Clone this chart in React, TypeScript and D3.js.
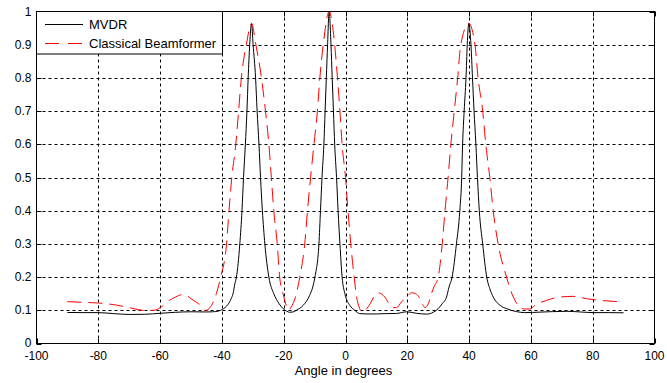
import React from "react";
import * as d3 from "d3";

const mvdrAngles = [-90, -85, -80, -75, -70, -65, -60, -55, -50, -45, -43, -41, -40, -39, -38, -37, -36.4, -35.8, -35.3, -34.2, -33.5, -33.0, -32.4, -31.9, -31.5, -31.0, -30.4, -29.9, -29.1, -28.6, -28.0, -27.5, -26.9, -26.1, -24.8, -23.2, -21.5, -20.2, -19, -18, -17, -15.9, -13.7, -11.6, -10.6, -9.9, -8.6, -8.1, -7.6, -7.0, -6.6, -6.2, -5.8, -5.3, -4.7, -4.3, -3.9, -3.5, -2.9, -2.4, -1.8, -1.1, -0.2, 1.4, 3.0, 4.6, 7, 10, 13, 16.5, 19.8, 23, 26.2, 28.4, 30.0, 31.3, 32.7, 33.5, 34.5, 35.9, 37.0, 37.6, 37.9, 38.4, 39.0, 39.4, 39.9, 40.6, 41.1, 41.6, 42.2, 42.7, 43.3, 44.4, 45.7, 46.7, 47.8, 50, 52.1, 55.4, 58, 62.9, 67, 71.6, 76, 80.2, 85, 90];
const mvdrValues = [0.0935, 0.093, 0.093, 0.09, 0.0875, 0.088, 0.091, 0.094, 0.0955, 0.095, 0.0955, 0.098, 0.102, 0.108, 0.118, 0.135, 0.15, 0.18, 0.2, 0.3, 0.4, 0.5, 0.6, 0.7, 0.8, 0.9, 0.964, 0.9, 0.8, 0.7, 0.6, 0.5, 0.4, 0.3, 0.2, 0.15, 0.12, 0.105, 0.097, 0.094, 0.095, 0.1, 0.115, 0.145, 0.17, 0.2, 0.3, 0.4, 0.5, 0.6, 0.7, 0.8, 0.9, 1.0, 0.9, 0.8, 0.7, 0.6, 0.5, 0.4, 0.3, 0.2, 0.15, 0.115, 0.1, 0.09, 0.089, 0.089, 0.09, 0.0905, 0.0955, 0.091, 0.0885, 0.094, 0.105, 0.12, 0.14, 0.17, 0.2, 0.3, 0.4, 0.5, 0.6, 0.7, 0.8, 0.9, 0.964, 0.9, 0.8, 0.7, 0.6, 0.5, 0.4, 0.3, 0.2, 0.165, 0.14, 0.115, 0.105, 0.096, 0.093, 0.0945, 0.096, 0.097, 0.095, 0.093, 0.093, 0.0925];

const cbfAngles = [-90, -85, -80, -75, -70, -67, -65, -62, -60, -57, -55, -53, -51, -50, -47, -45.5, -44.5, -43.9, -42.8, -41.8, -40.4, -38.5, -37.7, -36.8, -35.5, -34.6, -33.7, -32.1, -30.4, -29.0, -27.2, -25.9, -24.8, -24.0, -23.2, -22.1, -21.3, -20.2, -19.2, -18.5, -17.6, -17.0, -16.2, -14.8, -13.2, -12.3, -11.3, -10.2, -9.1, -8.3, -7.2, -5.3, -3.5, -2.6, -1.8, -1.1, 0.0, 0.8, 1.7, 2.8, 3.6, 4.4, 5.2, 6.3, 8.0, 9.5, 10.9, 12.7, 14.3, 15.4, 16.5, 18.1, 19.8, 21.4, 23.0, 24.1, 25.1, 25.8, 26.8, 27.8, 28.6, 30.0, 31.3, 32.2, 33.2, 34.1, 35.2, 36.3, 37.3, 39.9, 41.9, 42.9, 44.4, 45.4, 46.7, 47.8, 49.4, 52.1, 54.3, 56.4, 58, 59.7, 61.3, 65.1, 69.4, 73.7, 78, 82.3, 86.7, 90];
const cbfValues = [0.126, 0.124, 0.122, 0.117, 0.108, 0.102, 0.0995, 0.1, 0.108, 0.13, 0.14, 0.147, 0.142, 0.135, 0.115, 0.0995, 0.102, 0.108, 0.125, 0.15, 0.2, 0.3, 0.4, 0.5, 0.6, 0.7, 0.8, 0.9, 0.964, 0.9, 0.8, 0.7, 0.6, 0.5, 0.4, 0.3, 0.2, 0.15, 0.115, 0.1, 0.11, 0.12, 0.14, 0.2, 0.3, 0.4, 0.5, 0.6, 0.7, 0.8, 0.9, 1.0, 0.9, 0.8, 0.7, 0.6, 0.5, 0.4, 0.3, 0.2, 0.14, 0.11, 0.0965, 0.1, 0.12, 0.145, 0.152, 0.14, 0.117, 0.108, 0.108, 0.125, 0.14, 0.153, 0.148, 0.135, 0.115, 0.108, 0.12, 0.15, 0.17, 0.2, 0.3, 0.4, 0.5, 0.6, 0.7, 0.8, 0.9, 0.964, 0.9, 0.8, 0.7, 0.6, 0.5, 0.4, 0.3, 0.2, 0.14, 0.11, 0.104, 0.104, 0.115, 0.13, 0.14, 0.142, 0.135, 0.13, 0.127, 0.125];

const xTicks = [-100, -80, -60, -40, -20, 0, 20, 40, 60, 80, 100];
const yTicks = [0, 0.1, 0.2, 0.3, 0.4, 0.5, 0.6, 0.7, 0.8, 0.9, 1];
const yTickLabels = ["0", "0.1", "0.2", "0.3", "0.4", "0.5", "0.6", "0.7", "0.8", "0.9", "1"];
const seriesNames = ["MVDR", "Classical Beamformer"];

const W = 667;
const H = 383;
const L = 36.5, R = 654.5, T = 11.5, B = 343.5;

export default function App() {
  const x = d3.scaleLinear().domain([-100, 100]).range([L, R]);
  const y = d3.scaleLinear().domain([0, 1]).range([B, T]);
  const line = d3
    .line<[number, number]>()
    .x((d) => x(d[0]))
    .y((d) => y(d[1]))
    .curve(d3.curveMonotoneX);
  const mvdr = mvdrAngles.map((a, i) => [a, mvdrValues[i]] as [number, number]);
  const cbf = cbfAngles.map((a, i) => [a, cbfValues[i]] as [number, number]);
  const font = "Arial, 'Liberation Sans', sans-serif";
  const tickLen = 5;

  return (
    <svg
      width={W}
      height={H}
      style={{ position: "absolute", left: 0, top: 0, background: "#fff" }}
      fontFamily={font}
    >
      <rect x={0} y={0} width={W} height={H} fill="#fff" />
      {/* grid */}
      {xTicks.slice(1, -1).map((t) => (
        <line key={"gx" + t} x1={Math.round(x(t)) + 0.5} x2={Math.round(x(t)) + 0.5} y1={T} y2={B} stroke="#000" strokeWidth={1} strokeDasharray="3 3" />
      ))}
      {yTicks.slice(1, -1).map((t) => (
        <line key={"gy" + t} y1={Math.round(y(t)) + 0.5} y2={Math.round(y(t)) + 0.5} x1={L} x2={R} stroke="#000" strokeWidth={1} strokeDasharray="3 3" />
      ))}
      {/* ticks */}
      {xTicks.map((t) => (
        <g key={"tx" + t}>
          <line x1={Math.round(x(t)) + 0.5} x2={Math.round(x(t)) + 0.5} y1={B} y2={B - tickLen} stroke="#000" />
          <line x1={Math.round(x(t)) + 0.5} x2={Math.round(x(t)) + 0.5} y1={T} y2={T + tickLen} stroke="#000" />
          <text x={x(t)} y={360} fontSize={12} textAnchor="middle" fill="#000">{String(t)}</text>
        </g>
      ))}
      {yTicks.map((t, i) => (
        <g key={"ty" + t}>
          <line y1={Math.round(y(t)) + 0.5} y2={Math.round(y(t)) + 0.5} x1={L} x2={L + tickLen} stroke="#000" />
          <line y1={Math.round(y(t)) + 0.5} y2={Math.round(y(t)) + 0.5} x1={R} x2={R - tickLen} stroke="#000" />
          <text x={31.5} y={y(t) + (i === 0 ? 3 : 4)} fontSize={12} textAnchor="end" fill="#000">{yTickLabels[i]}</text>
        </g>
      ))}
      {/* series */}
      <path d={line(mvdr) || ""} fill="none" stroke="#000" strokeWidth={1} />
      <path d={line(cbf) || ""} fill="none" stroke="#ff0000" strokeWidth={1} strokeDasharray="14 7" />
      {/* frame */}
      <rect x={L} y={T} width={R - L} height={B - T} fill="none" stroke="#000" strokeWidth={1} />
      {/* legend */}
      <rect x={L} y={T} width={222.5 - L} height={54 - T} fill="#fff" stroke="#000" strokeWidth={1} />
      <line x1={45} x2={83} y1={24.5} y2={24.5} stroke="#000" strokeWidth={1} />
      <text x={89} y={28.5} fontSize={13} fill="#000">{seriesNames[0]}</text>
      <line x1={45} x2={83} y1={43.5} y2={43.5} stroke="#ff0000" strokeWidth={1} strokeDasharray="14 9" />
      <text x={89} y={47.5} fontSize={13} fill="#000">{seriesNames[1]}</text>
      {/* axis label */}
      <text x={343.5} y={375} fontSize={13} textAnchor="middle" fill="#000">Angle in degrees</text>
    </svg>
  );
}
